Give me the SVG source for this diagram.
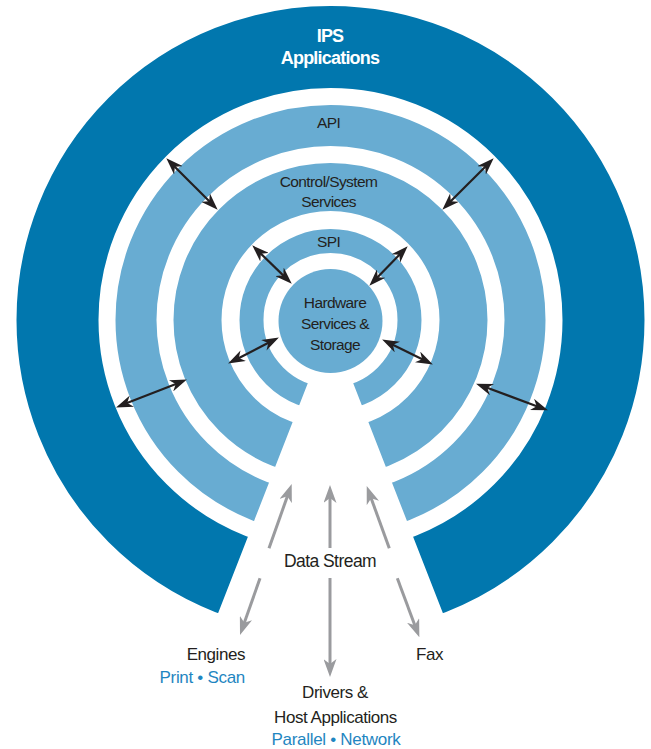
<svg xmlns="http://www.w3.org/2000/svg" width="651" height="749" viewBox="0 0 651 749">
  <defs>
    <clipPath id="gapClip">
      <polygon points="0,0 651,0 651,749 495.9,749 330.5,325 165.1,749 0,749"/>
    </clipPath>
    <marker id="blackHead" viewBox="0 0 17 12" refX="8" refY="6" markerWidth="17" markerHeight="12" markerUnits="userSpaceOnUse" orient="auto-start-reverse">
      <path d="M0,0 L17,6 L0,12 L5,6 Z" fill="#231f20"/>
    </marker>
    <marker id="grayHead" viewBox="0 0 18 13" refX="9" refY="6.5" markerWidth="18" markerHeight="13" markerUnits="userSpaceOnUse" orient="auto">
      <path d="M0,0 L18,6.5 L0,13 L5,6.5 Z" fill="#9a9b9e"/>
    </marker>
    <style>
      text { font-family: "Liberation Sans", Arial, sans-serif; }
      .ring { fill: none; clip-path: url(#gapClip); }
      .dark { stroke: #0177ae; }
      .light { stroke: #68acd2; }
      .lbl { fill: #231f20; font-size: 15.5px; text-anchor: middle; letter-spacing: -0.6px; }
      .title { fill: #ffffff; font-size: 18px; font-weight: bold; text-anchor: middle; letter-spacing: -0.8px; }
      .ext { fill: #231f20; font-size: 17px; letter-spacing: -0.45px; }
      .blue { fill: #1f86c1; font-size: 17px; letter-spacing: -0.3px; }
      .blk { stroke: #231f20; stroke-width: 2.2; fill: none; marker-start: url(#blackHead); marker-end: url(#blackHead); }
      .gry { stroke: #9a9b9e; stroke-width: 3; fill: none; marker-end: url(#grayHead); }
    </style>
  </defs>

  <rect x="0" y="0" width="651" height="749" fill="#ffffff"/>

  <g id="ips-applications">
    <circle class="ring dark" cx="330.5" cy="320" r="273" stroke-width="82"/>
    <text class="title" x="330" y="42">IPS</text>
    <text class="title" x="330" y="63.5">Applications</text>
  </g>

  <g id="api">
    <circle class="ring light" cx="330.5" cy="320" r="194.5" stroke-width="41"/>
    <text class="lbl" x="328.5" y="127.5">API</text>
  </g>

  <g id="control-system-services">
    <circle class="ring light" cx="330.5" cy="320" r="133" stroke-width="48"/>
    <text class="lbl" x="328.5" y="187">Control/System</text>
    <text class="lbl" x="328.5" y="207">Services</text>
  </g>

  <g id="spi">
    <circle class="ring light" cx="330.5" cy="320" r="79" stroke-width="24"/>
    <text class="lbl" x="328.5" y="246.5">SPI</text>
  </g>

  <g id="hardware-services-storage">
    <circle cx="330.5" cy="321" r="52" fill="#68acd2"/>
    <text class="lbl" x="335" y="308">Hardware</text>
    <text class="lbl" x="335" y="329">Services &amp;</text>
    <text class="lbl" x="335" y="350">Storage</text>
  </g>

  <g id="connectors">
    <line class="blk" x1="172.7" y1="164.7" x2="211.3" y2="203.3"/>
    <line class="blk" x1="487.3" y1="164.7" x2="448.7" y2="203.3"/>
    <line class="blk" x1="124.4" y1="404.1" x2="178.5" y2="382.9"/>
    <line class="blk" x1="539.5" y1="407.2" x2="484.5" y2="386.8"/>
    <line class="blk" x1="258.7" y1="251.6" x2="285.3" y2="277.4"/>
    <line class="blk" x1="401.4" y1="252.7" x2="375.6" y2="279.3"/>
    <line class="blk" x1="236.1" y1="359.4" x2="270.9" y2="341.6"/>
    <line class="blk" x1="424.8" y1="360.5" x2="390.2" y2="343.5"/>

    <line class="gry" x1="330" y1="548" x2="330" y2="494"/>
    <line class="gry" x1="330" y1="578" x2="330" y2="668"/>
    <line class="gry" x1="269" y1="548.3" x2="288.7" y2="492.5"/>
    <line class="gry" x1="260" y1="578.3" x2="243" y2="626.5"/>
    <line class="gry" x1="389.3" y1="548.3" x2="369.8" y2="494.5"/>
    <line class="gry" x1="397.3" y1="578.3" x2="416.2" y2="628.9"/>
  </g>

  <g id="data-stream">
    <text class="ext" x="330" y="566.5" text-anchor="middle" style="font-size:17.5px;letter-spacing:-0.55px">Data Stream</text>
  </g>

  <g id="engines">
    <text class="ext" x="245" y="659.5" text-anchor="end">Engines</text>
    <text class="blue" x="245" y="682.5" text-anchor="end">Print • Scan</text>
  </g>

  <g id="fax">
    <text class="ext" x="416" y="659.5">Fax</text>
  </g>

  <g id="drivers-host">
    <text class="ext" x="335" y="697.5" text-anchor="middle">Drivers &amp;</text>
    <text class="ext" x="335.5" y="722.5" text-anchor="middle">Host Applications</text>
    <text class="blue" x="336" y="745" text-anchor="middle">Parallel • Network</text>
  </g>
</svg>
